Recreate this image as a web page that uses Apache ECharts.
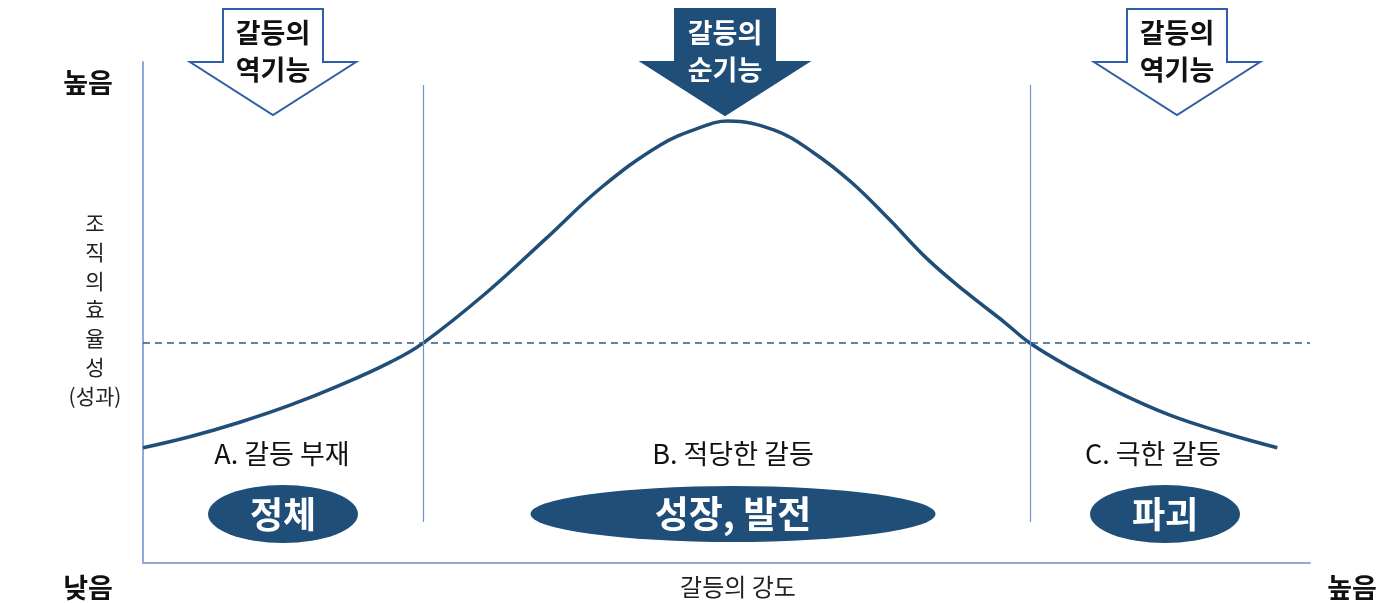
<!DOCTYPE html>
<html><head><meta charset="utf-8">
<script src="https://cdn.jsdelivr.net/npm/echarts@6/dist/echarts.min.js"></script>
<style>html,body{margin:0;padding:0;background:#fff}#c{width:1391px;height:603px}</style>
</head><body><div id="c"></div>
<script>
// Conflict intensity (0-100) vs organisational efficiency (0-100)
const intensity = [0, 4.0, 8.3, 12.6, 16.9, 21.2, 24.0, 29.5, 34.5, 39.3, 44.3, 47.6, 50.1, 54.1, 57.4, 60.7, 63.9, 67.2, 70.5, 73.8, 76.0, 79.4, 83.7, 88.0, 92.3, 97.2];
const efficiency = [23.0, 25.2, 28.1, 31.5, 35.5, 40.1, 43.9, 54.1, 64.7, 75.0, 83.4, 86.8, 88.2, 86.4, 82.0, 76.0, 68.7, 60.7, 54.1, 48.1, 43.9, 39.1, 33.9, 29.5, 26.2, 23.0];
const threshold = 43.9;
const zoneBounds = [24, 76];
const zoneLines = [8.2, 95.4];
const zoneLabels = ['A. 갈등 부재', 'B. 적당한 갈등', 'C. 극한 갈등'];
const zoneResults = ['정체', '성장, 발전', '파괴'];
const arrowTexts = [['갈등의', '역기능'], ['갈등의', '순기능'], ['갈등의', '역기능']];
const yAxisTitle = ['조', '직', '의', '효', '율', '성', '(성과)'];
const highLabel = '높음', lowLabel = '낮음', xAxisTitle = '갈등의 강도';

const FONT = '"Noto Sans CJK KR", "Noto Sans", sans-serif';
const NAVY = '#1f4e79';
const chart = echarts.init(document.getElementById('c'));

function arrow(cx, filled, texts) {
  const top = 9, neck = 62, tip = 115, bw = 50, hw = 83;
  const pts = [[cx - bw, top], [cx + bw, top], [cx + bw, neck], [cx + hw, neck], [cx, tip], [cx - hw, neck], [cx - bw, neck]];
  return [
    { type: 'polygon', shape: { points: pts }, style: { fill: filled ? NAVY : '#fff', stroke: filled ? NAVY : '#2f5fa8', lineWidth: 2 }, z: 10 },
    { type: 'text', x: cx, y: 33, style: { text: texts[0], fill: filled ? '#fff' : '#111', font: '600 27px ' + FONT, align: 'center', verticalAlign: 'middle' }, z: 11 },
    { type: 'text', x: cx, y: 70, style: { text: texts[1], fill: filled ? '#fff' : '#111', font: '600 27px ' + FONT, align: 'center', verticalAlign: 'middle' }, z: 11 }
  ];
}
function ellipse(cx, cy, w, h, txt, fs) {
  return [
    { type: 'circle', x: cx, y: cy, scaleX: w / h, shape: { cx: 0, cy: 0, r: h / 2 }, style: { fill: NAVY }, z: 10 },
    { type: 'text', x: cx, y: cy, style: { text: txt, fill: '#fff', font: 'bold ' + fs + 'px ' + FONT, align: 'center', verticalAlign: 'middle' }, z: 11 }
  ];
}
function txt(x, y, s, font, color) {
  return { type: 'text', x: x, y: y, style: { text: s, fill: color || '#111', font: font + ' ' + FONT, align: 'center', verticalAlign: 'middle' }, z: 11 };
}

let graphics = [];
graphics = graphics.concat(arrow(273, false, arrowTexts[0]), arrow(725, true, arrowTexts[1]), arrow(1177, false, arrowTexts[2]));
graphics = graphics.concat(ellipse(283, 514, 150, 58, zoneResults[0], 36), ellipse(733, 514, 405, 56, zoneResults[1], 37), ellipse(1165, 514, 150, 58, zoneResults[2], 36));
graphics.push(txt(282, 454, zoneLabels[0], '27px'), txt(733, 454, zoneLabels[1], '27px'), txt(1153, 454, zoneLabels[2], '27px'));
graphics.push(txt(88, 83, highLabel, 'bold 27px'), txt(88, 588, lowLabel, 'bold 27px'), txt(1352, 588, highLabel, 'bold 27px'));
graphics.push(txt(738, 587, xAxisTitle, '24px', '#222'));
yAxisTitle.forEach((c, i) => graphics.push(txt(95, 223 + i * 28.8, c, '21px', '#222')));

chart.setOption({
  animation: false,
  grid: { left: 143, right: 81, top: 62, bottom: 40 },
  xAxis: { type: 'value', min: 0, max: 100, axisLine: { show: true, lineStyle: { color: '#8eaadb', width: 2 } }, axisTick: { show: false }, axisLabel: { show: false }, splitLine: { show: false } },
  yAxis: { type: 'value', min: 0, max: 100, axisLine: { show: true, lineStyle: { color: '#8eaadb', width: 2 } }, axisTick: { show: false }, axisLabel: { show: false }, splitLine: { show: false } },
  series: [{
    type: 'line', smooth: 0.4, showSymbol: false,
    data: intensity.map((x, i) => [x, efficiency[i]]),
    lineStyle: { color: NAVY, width: 3.5 },
    markLine: {
      silent: true, symbol: 'none', label: { show: false },
      data: [
        { yAxis: threshold, lineStyle: { type: [7, 5], color: '#2f5a8a', width: 1.6 } },
        [{ coord: [zoneBounds[0], zoneLines[0]], lineStyle: { type: 'solid', color: '#7391cf', width: 1.2 } }, { coord: [zoneBounds[0], zoneLines[1]] }],
        [{ coord: [zoneBounds[1], zoneLines[0]], lineStyle: { type: 'solid', color: '#7391cf', width: 1.2 } }, { coord: [zoneBounds[1], zoneLines[1]] }]
      ]
    }
  }],
  graphic: graphics
});
</script></body></html>
